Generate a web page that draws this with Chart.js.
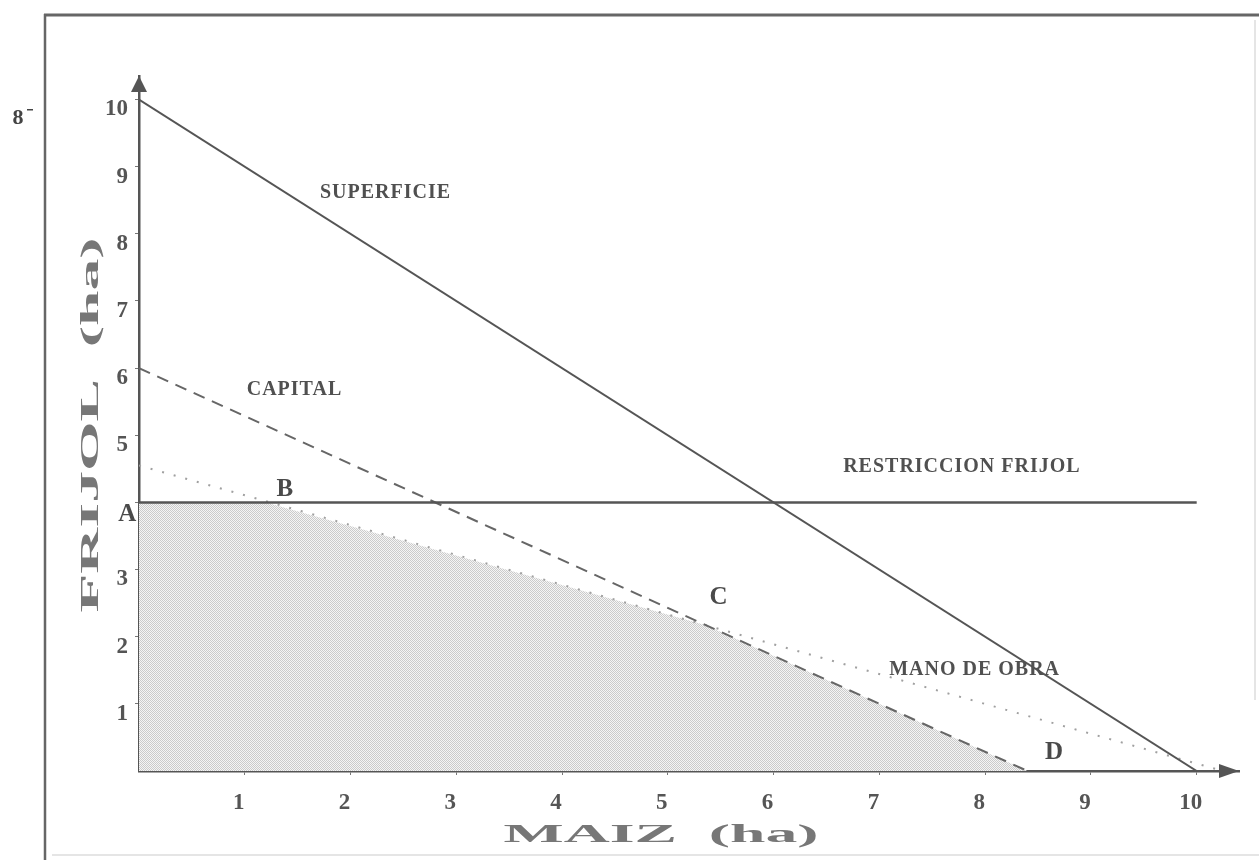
<!DOCTYPE html>
<html>
<head>
<meta charset="utf-8">
<script src="https://cdn.jsdelivr.net/npm/chart.js@4.4.1/dist/chart.umd.min.js"></script>
<style>
  html, body { margin: 0; padding: 0; background: #fff; }
</style>
</head>
<body>
<canvas id="lp_chart" width="1259" height="860"></canvas>
<script>
// Restricciones del modelo (ha de maiz en x, ha de frijol en y)
const superficieX = [0, 10];
const superficieY = [10, 0];
const capitalX = [0, 8.4];
const capitalY = [6, 0];
const manoObraX = [0, 10.25];
const manoObraY = [4.55, 0];
const frijolX = [0, 10];
const frijolY = [4, 4];

// region factible A - B - C - D
const regionX = [0, 1.2, 5.36, 8.4];
const regionY = [4, 4, 2.17, 0];

const xTicks = [1, 2, 3, 4, 5, 6, 7, 8, 9, 10];
const yTicks = [1, 2, 3, 5, 6, 7, 8, 9, 10];

// rotulos de las rectas y de los vertices (en unidades de los ejes)
const rotulos = ['SUPERFICIE', 'CAPITAL', 'RESTRICCION FRIJOL', 'MANO DE OBRA'];
const rotulosX = [2.33, 1.47, 7.78, 7.90];
const rotulosY = [8.61, 5.68, 4.53, 1.50];
const vertices = ['A', 'B', 'C', 'D'];
const verticesX = [-0.11, 1.38, 5.48, 8.65];
const verticesY = [3.82, 4.19, 2.59, 0.28];

const tituloX = 'MAIZ  (ha)';
const tituloY = 'FRIJOL  (ha)';

function puntos(xs, ys) {
  return xs.map((x, i) => ({ x: x, y: ys[i] }));
}

// trama de puntos gris (como la impresion original)
function trama() {
  const c = document.createElement('canvas');
  c.width = 4; c.height = 4;
  const g = c.getContext('2d');
  g.fillStyle = '#f5f5f5';
  g.fillRect(0, 0, 4, 4);
  g.fillStyle = '#cbcbcb';
  for (let y = 0; y < 4; y++) {
    for (let x = 0; x < 4; x++) {
      if ((x + y) % 2 === 0) g.fillRect(x, y, 1, 1);
    }
  }
  return g.createPattern(c, 'repeat');
}

const serif = '"Liberation Serif", "DejaVu Serif", serif';
const gris = '#555';

const dibujo = {
  id: 'dibujo',
  beforeDraw(chart) {
    const ctx = chart.ctx;
    ctx.save();
    ctx.fillStyle = '#fff';
    ctx.fillRect(0, 0, chart.width, chart.height);
    // marco de la figura
    ctx.strokeStyle = '#666';
    ctx.lineWidth = 3;
    ctx.beginPath();
    ctx.moveTo(44, 15); ctx.lineTo(1259, 15);
    ctx.stroke();
    ctx.lineWidth = 2.5;
    ctx.beginPath();
    ctx.moveTo(45, 14); ctx.lineTo(45, 860);
    ctx.stroke();
    ctx.strokeStyle = '#ddd';
    ctx.lineWidth = 1.5;
    ctx.beginPath();
    ctx.moveTo(52, 855); ctx.lineTo(1259, 855);
    ctx.moveTo(1255, 20); ctx.lineTo(1255, 700);
    ctx.stroke();
    // marca suelta a la izquierda
    ctx.fillStyle = '#444';
    ctx.font = 'bold 22px ' + serif;
    ctx.textAlign = 'center';
    ctx.textBaseline = 'middle';
    ctx.fillText('8', 18, 118);
    ctx.fillRect(27, 109, 6, 1.5);
    ctx.restore();
  },
  afterDraw(chart) {
    const ctx = chart.ctx;
    const xs = chart.scales.x, ys = chart.scales.y;
    const a = chart.chartArea;
    ctx.save();
    // flechas de los ejes
    ctx.fillStyle = gris;
    ctx.beginPath();
    ctx.moveTo(a.left, a.top);
    ctx.lineTo(a.left - 8, a.top + 16);
    ctx.lineTo(a.left + 8, a.top + 16);
    ctx.closePath();
    ctx.fill();
    ctx.beginPath();
    ctx.moveTo(a.right, a.bottom);
    ctx.lineTo(a.right - 20, a.bottom - 7);
    ctx.lineTo(a.right - 20, a.bottom + 7);
    ctx.closePath();
    ctx.fill();

    // rotulos de las restricciones
    ctx.textAlign = 'center';
    ctx.textBaseline = 'middle';
    ctx.fillStyle = '#505050';
    ctx.font = 'bold 20px ' + serif;
    ctx.letterSpacing = '1px';
    rotulos.forEach((t, i) => {
      ctx.fillText(t, xs.getPixelForValue(rotulosX[i]), ys.getPixelForValue(rotulosY[i]));
    });
    ctx.letterSpacing = '0px';
    ctx.font = 'bold 25px ' + serif;
    ctx.fillStyle = '#4a4a4a';
    vertices.forEach((t, i) => {
      ctx.fillText(t, xs.getPixelForValue(verticesX[i]), ys.getPixelForValue(verticesY[i]));
    });

    // titulos de los ejes (letra ancha)
    ctx.fillStyle = '#777';
    ctx.font = 'bold 26px ' + serif;
    ctx.textBaseline = 'alphabetic';
    ctx.save();
    ctx.translate(661, 842);
    ctx.scale(2.45, 1);
    ctx.fillText(tituloX, 0, 0);
    ctx.restore();
    ctx.save();
    ctx.translate(98, 425);
    ctx.rotate(-Math.PI / 2);
    ctx.scale(2.45, 1);
    ctx.fillText(tituloY, 0, 0);
    ctx.restore();
    ctx.restore();
  }
};

const ctx_lp = document.getElementById('lp_chart').getContext('2d');
const lpChart = new Chart(ctx_lp, {
  type: 'line',
  data: {
    datasets: [
      {
        label: 'SUPERFICIE',
        data: puntos(superficieX, superficieY),
        borderColor: gris,
        borderWidth: 2,
        pointRadius: 0,
        fill: false
      },
      {
        label: 'RESTRICCION FRIJOL',
        data: puntos(frijolX, frijolY),
        borderColor: gris,
        borderWidth: 2.5,
        pointRadius: 0,
        fill: false
      },
      {
        label: 'CAPITAL',
        data: puntos(capitalX, capitalY),
        borderColor: '#666',
        borderWidth: 2,
        borderDash: [12, 8],
        pointRadius: 0,
        fill: false
      },
      {
        label: 'MANO DE OBRA',
        data: puntos(manoObraX, manoObraY),
        borderColor: '#a0a0a0',
        borderWidth: 2,
        borderDash: [2, 10],
        pointRadius: 0,
        fill: false
      },
      {
        label: 'region factible',
        data: puntos(regionX, regionY),
        borderWidth: 0,
        borderColor: 'rgba(0,0,0,0)',
        backgroundColor: trama(),
        pointRadius: 0,
        fill: 'origin'
      }
    ]
  },
  options: {
    responsive: false,
    animation: false,
    events: [],
    layout: { padding: { left: 0, top: 76, right: 20, bottom: 0 } },
    plugins: {
      legend: { display: false },
      tooltip: { enabled: false }
    },
    scales: {
      x: {
        type: 'linear',
        min: 0,
        max: 10.4,
        afterFit: function(scale) { scale.height = 89; },
        border: { display: true, color: gris, width: 2.5 },
        grid: { display: true, drawOnChartArea: false, drawTicks: true, tickLength: 4, color: '#777' },
        ticks: {
          stepSize: 1,
          includeBounds: false,
          padding: 14,
          labelOffset: -6,
          color: gris,
          font: { family: serif, size: 23, weight: 'bold' },
          callback: function(v) { return xTicks.includes(v) ? String(v) : null; }
        }
      },
      y: {
        type: 'linear',
        min: 0,
        max: 10.35,
        afterFit: function(scale) { scale.width = 139; },
        border: { display: true, color: gris, width: 2.5 },
        grid: { display: true, drawOnChartArea: false, drawTicks: true, tickLength: 4, color: '#777' },
        ticks: {
          stepSize: 1,
          includeBounds: false,
          padding: 7,
          labelOffset: 10,
          color: gris,
          font: { family: serif, size: 23, weight: 'bold' },
          callback: function(v) { return yTicks.includes(v) ? String(v) : (v === 4 ? '' : null); }
        }
      }
    }
  },
  plugins: [dibujo]
});
</script>
</body>
</html>
